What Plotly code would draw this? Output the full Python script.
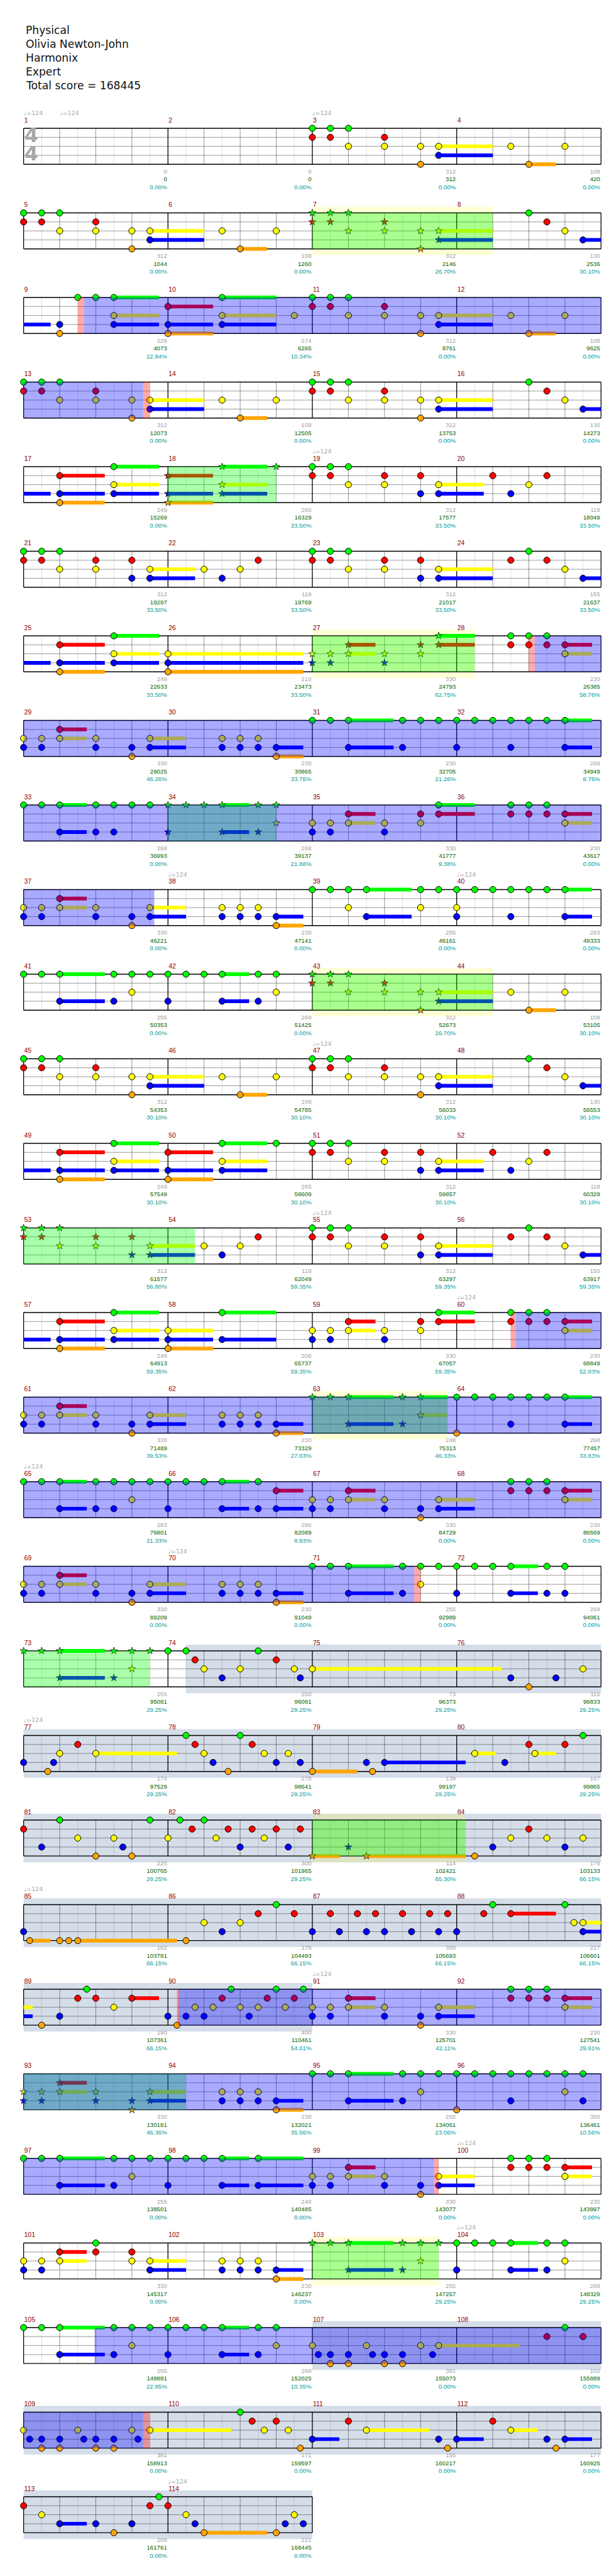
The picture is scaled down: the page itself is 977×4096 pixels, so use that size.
import plotly.graph_objects as go

# ---------------- data ----------------
TITLE_LINES = ["Physical", "Olivia Newton-John", "Harmonix", "Expert", "Total score = 168445"]
N_MEAS = 114

# notes per row of 4 measures: "pos16:LANES[/end16]"  (lowercase = star note)
ROW_NOTES = [
    "32:GR 34:GR 36:GY 40:RY 44:YO 46:YB/52 54:Y 56:O/59 60:Y",
    "0:GR 2:GR 4:GY 8:RY 12:YO 14:YB/20 22:Y 24:O/27 28:Y 32:gr 34:gr 36:gy 40:ry 44:yo 46:yb/52 56:G 58:R 60:Y 62:B/67",
    "4:BO 6:G 8:G 10:GYB/15 16:RBO/21 22:GYB/28 30:Y 32:GR 34:GR 36:GY 40:RY 44:YO 46:YB/52 54:Y 56:O/59 60:Y",
    "0:GR 2:GR 4:GY 8:RY 12:YO 14:YB/20 22:Y 24:O/27 28:Y 32:GR 34:GR 36:GY 40:RY 44:YO 46:YB/52 56:G 58:R 60:Y 62:B/67",
    "4:RBO/9 10:GYB/15 16:rbo/21 22:gyb/27 28:g 32:GR 34:GR 36:GY 40:RY 44:RB 46:YB/51 52:R 54:B 56:Y 58:R",
    "0:GR 2:GR 4:GY 8:RY 12:RB 14:YB/19 20:Y 22:B 24:Y 26:R 32:GR 34:GR 36:GY 40:RY 44:RB 46:YB/52 54:R 56:G 58:R 60:Y 62:B/67",
    "4:RBO/9 10:GYB/15 16:YBO/31 32:yb 34:yb 36:ry/39 40:yb 44:ry 46:gr/50 54:GR 56:GR 58:GR 60:RY/63",
    "0:YB 2:YB 4:RY/7 8:YB 12:BO 14:YB/18 22:YB 24:YB 26:YB 28:BO/31 32:G 34:G 36:GB/41 42:GB 44:G 46:G 48:GB 50:G 52:G 54:GB 56:G 58:G 60:GB/63",
    "0:G 2:G 4:GB/7 8:GB 10:GB 12:G 14:G 16:gb 18:g 20:g 22:gb/25 26:gb 28:gy 32:YB 34:YB 36:RY/39 40:YB 44:RY 46:GR/50 54:GR 56:GR 58:GR 60:RY/63",
    "0:YB 2:YB 4:RY/7 8:YB 12:BO 14:YB/18 22:YB 24:YB 26:YB 28:BO/31 32:G 34:G 36:GY 38:GB/43 44:GY 46:G 48:GYB 50:G 52:G 54:GB 56:G 58:G 60:GB/63",
    "0:G 2:G 4:GB/9 10:GB 12:GY 14:G 16:GB 18:G 20:G 22:GB/25 26:GB 28:GY 32:gr 34:gr 36:gy 40:ry 44:yo 46:yb/52 54:Y 56:O/59 60:Y",
    "0:GR 2:GR 4:GY 8:RY 12:YO 14:YB/20 22:Y 24:O/27 28:Y 32:GR 34:GR 36:GY 40:RY 44:YO 46:YB/52 56:G 58:R 60:Y 62:B/67",
    "4:RBO/9 10:GYB/15 16:RBO/21 22:GYB/27 28:G 32:GR 34:GR 36:GY 40:RY 44:RB 46:YB/51 52:R 54:B 56:Y 58:R",
    "0:gr 2:gr 4:gy 8:ry 12:rb 14:yb/19 20:Y 22:B 24:Y 26:R 32:GR 34:GR 36:GY 40:RY 44:RB 46:YB/52 54:R 56:G 58:R 60:Y 62:B/67",
    "4:RBO/9 10:GYB/15 16:YBO/21 22:GB/28 32:YB 34:YB 36:RY/39 40:YB 44:RY 46:GR/50 54:GR 56:GR 58:GR 60:RY/63",
    "0:YB 2:YB 4:RY/7 8:YB 12:BO 14:YB/18 22:YB 24:YB 26:YB 28:BO/31 32:g 34:g 36:gb/41 42:gb 44:gy/47 48:GO 50:G 52:G 54:GB 56:G 58:G 60:GB/63",
    "0:G 2:G 4:GB/7 8:GB 10:GB 12:GY 14:G 16:GB 18:G 20:G 22:GB/25 26:GB 28:RB/31 32:YB 34:YB 36:RY/39 40:YB 44:BO 46:YB/50 54:GR 56:GR 58:GR 60:RY/63",
    "0:YB 2:YB 4:RY/7 8:YB 12:BO 14:YB/18 22:YB 24:YB 26:YB 28:BO/31 32:G 34:G 36:GB/41 42:GB 44:GY 46:G 48:GB 50:G 52:G 54:GB/57 58:GB 60:GB",
    "0:g 2:g 4:gb/9 10:gb 12:gy 14:g 16:G 18:G 19:R 20:Y 22:B 24:Y 26:G 28:R 30:Y 30.67:B 32:Y/53 54:B 56:O 59:B 62:Y",
    "0:B 2.67:O 3.33:B 4:Y 6:R 8:Y/17 18:G 19:R 20:Y 21:B 22.67:O 24:G 25.33:R 26.67:Y 28:B 29.33:Y 30.67:B 32:O/37 38:B 38.67:O 40:B/49 50:Y/52.33 53.33:B 56:R 56.67:Y/59 60:R 62:G",
    "0:R 2:B 4:G 6:Y 8:O 10:Y 11:B 12:O 14:G 16:Y 17.33:G 18.67:R 20:G 21.33:Y 22.67:R 24:B 25.33:R 26.67:Y 28:R 29.33:B 30.67:R 32:o/35 36:b 38:o/49 50:O 52:B 54:Y 56:R 58:Y 60:B 62:Y",
    "0:B 0.67:O/3 4:O 5:O 6:O/17 18:O 20:Y 22:B 24:Y 26:R 28:G 30:R 32:B 34:R 35:B 37:R 38:B 39:R 40:B 42:R 43:B 45:R 46:B 47:R 48:B 51:R 52:G 54:R/59 60:G 61:Y 62:YB/65",
    "2:O 4:B 6:R 7:G 8:R 10:Y 12:R/15 16:B 17:O 18:B 19:Y 20:B 21:Y 22:R 23:G 24:Y 25:B 26:Y 27:R 28:G 29:Y 30:R 31:G 32:YB 34:YB 36:RY/39 40:YB 44:BO 46:YB/50 54:GR 56:GR 58:GR 60:RY/63",
    "0:yb 2:yb 4:ry/7 8:yb 12:bo 14:yb/18 22:YB 24:YB 26:YB 28:BO/31 32:G 34:G 36:GB/41 42:GB 44:GY 46:G 48:GO 50:G 52:G 54:GB 56:G 58:G 60:GY 62:GB",
    "0:G 2:G 4:GB/9 10:GB 12:GY 14:G 16:GB 18:G 20:G 22:GB/25 26:GB/31 32:YB 34:YB 36:RY/39 40:YB 44:BO 46:YB/50 54:GR 56:GR 58:GR 60:RY/63",
    "0:YB 2:YB 4:RY/7 8:GR 12:RY 14:YB/18 22:YB 24:YB 26:YB 28:BO/31 32:g 34:g 36:gb/41 42:gb 44:gy 46:g 48:GB 50:G 52:G 54:GB/57 58:GB 60:GY",
    "0:G 2:G 4:GB/9 10:GB 12:GY 14:G 16:GB 18:G 20:G 22:GB/25 26:GB 28:GY 32:Y 32.67:B 34:BO 36:BO 38:Y 38.67:B 40:BO 42:BO 44:Y 45.33:B 46:Y/55 58:R 60:G 62:R",
    "0:Y 0.67:B 2:BO 4:BO 6:Y 6.67:B 8:BO 10:BO 12:Y 12.67:B 14:Y/23 24:G 25.33:R 26.67:Y 28:R 29.33:Y 30.67:O 32:B/35 36:R 38:Y/45 46:B 47:O 48:B/51 52:R 54:Y/57 58:B 59:O 60:B/63",
    "0:R 2:Y 4:B/7 8:B 10:O 12:B 14:R 15:G 16:R 18:Y 19:B 20:O/27 28:O 29:B 30:Y 31:B",
]

MEASURE_COUNTS = [0, 0, 312, 108, 312, 108, 312, 130, 229, 274, 312, 108, 312, 108, 312, 130,
                  249, 265, 312, 118, 312, 118, 312, 155, 249, 210, 330, 230, 330, 230, 230, 268,
                  268, 268, 330, 230, 330, 230, 255, 293, 255, 268, 312, 108, 312, 108, 312, 130,
                  249, 265, 312, 118, 312, 118, 312, 155, 249, 206, 330, 230, 330, 230, 248, 268,
                  293, 286, 330, 230, 330, 230, 255, 268, 255, 250, 73, 115, 174, 278, 139, 167,
                  225, 300, 114, 178, 162, 178, 300, 227, 190, 400, 330, 230, 330, 230, 255, 300,
                  255, 248, 330, 230, 330, 230, 255, 268, 255, 268, 381, 102, 381, 171, 155, 177,
                  209, 221]
MEASURE_SCORES = [0, 0, 312, 420, 1044, 1260, 2146, 2536, 4073, 6265, 8761, 9625,
                  12073, 12505, 13753, 14273, 15269, 16329, 17577, 18049, 19297, 19769, 21017, 21637,
                  22633, 23473, 24793, 26385, 29025, 30865, 32705, 34949, 36993, 39137, 41777, 43617,
                  46221, 47141, 48161, 49333, 50353, 51425, 52673, 53105, 54353, 54785, 56033, 56553,
                  57549, 58609, 59857, 60329, 61577, 62049, 63297, 63917, 64913, 65737, 67057, 68849,
                  71489, 73329, 75313, 77457, 79801, 82089, 84729, 86569, 89209, 91049, 92989, 94061,
                  95081, 96081, 96373, 96833, 97529, 98641, 99197, 99865, 100765, 101965, 102421, 103133,
                  103781, 104493, 105693, 106601, 107361, 110461, 125701, 127541, 130181, 132021, 134061, 136461,
                  138501, 140485, 143077, 143997, 145317, 146237, 147257, 148329, 149881, 152025, 155073, 155889,
                  158913, 159597, 160217, 160925, 161761, 168445]
MEASURE_PCTS = [0, 0, 0, 0, 0, 0, 26.70, 30.10, 22.84, 10.34, 0, 0, 0, 0, 0, 0,
                0, 33.50, 33.50, 33.50, 33.50, 33.50, 33.50, 33.50, 33.50, 33.50, 62.75, 58.76,
                46.26, 33.76, 21.26, 8.76, 0, 21.88, 9.38, 0, 0, 0, 0, 0, 0, 0, 26.70, 30.10,
                30.10, 30.10, 30.10, 30.10, 30.10, 30.10, 30.10, 30.10, 56.80, 59.35, 59.35, 59.35,
                59.35, 59.35, 59.35, 52.03, 39.53, 27.03, 46.33, 33.83, 21.33, 8.83, 0, 0, 0, 0, 0, 0,
                29.25, 29.25, 29.25, 29.25, 29.25, 29.25, 29.25, 29.25, 29.25, 29.25, 65.30, 66.15,
                66.15, 66.15, 66.15, 66.15, 66.15, 54.61, 42.11, 29.61, 46.36, 35.56, 23.06, 10.56,
                0, 0, 0, 0, 0, 0, 29.25, 29.25, 22.85, 10.35, 0, 0, 0, 0, 0, 0, 0, 0]

TEMPO_POS = [0, 4, 32, 288, 592, 624, 736, 864, 944, 1024, 1104, 1216, 1344, 1440, 1584, 1648, 1808]
TEMPO_BPM = [124, 124, 124, 124, 124, 124, 124, 124, 124, 124, 124, 124, 124, 124, 124, 124, 124]

# star-power phrases (start16, end16, pale band)
OD_PHRASES = [(96, 116, 1), (272, 284, 0), (416, 434, 1), (528, 540, 0), (672, 692, 1), (832, 851, 0),
              (992, 1007, 1), (1152, 1166, 0), (1312, 1329, 1), (1472, 1490, 0), (1632, 1646, 1)]
OD_ACTIVE = [(134.67, 205.26), (440.65, 590.48), (950.57, 1131.3), (1425.2, 1581.5), (1671.87, 1741.26)]
OD_MARKS = [(134, 134.67), (205.26, 206), (440, 440.65), (950, 950.57), (1131.3, 1132),
            (1425, 1425.25), (1581.5, 1582), (1741.26, 1742)]
SOLOS = [(1170, 1440), (1696, 1824)]

LANE_OF = {"G": 0, "R": 1, "Y": 2, "B": 3, "O": 4}
LANE_COLORS = ["#00ff00", "#ff0000", "#ffff00", "#0000ff", "#ffa500"]

# ---------------- geometry (reference px -> data) ----------------
REF_W, REF_H = 1024.0, 4294.0
X0 = 31.0
SX = 963.0 / 64.0
T0 = 205.5
LP = 15.0
RP = 141.0 / 15.0
N_ROWS = len(ROW_NOTES)
K = 0.953


def Y(r, lane):
    return -(RP * r + lane)


def row_width(r):
    return 16 * min(4, N_MEAS - 4 * r)


def split(a, b):
    segs = []
    r = int(a // 64)
    while a < b - 1e-9 and r < N_ROWS:
        rs = 64 * r
        e = min(b, rs + 64)
        segs.append((r, a - rs, e - rs))
        a = e
        r += 1
    return segs


fig = go.Figure()
shapes = []

# background bands (below)
for s, e in SOLOS:
    for r, x0, x1 in split(s, e):
        shapes.append(dict(type="rect", layer="below", x0=x0, x1=x1,
                           y0=Y(r, -10.5 / LP), y1=Y(r, 4 + 10.5 / LP),
                           fillcolor="#d5dde9", line=dict(width=0)))
for s, e, pale in OD_PHRASES:
    if pale:
        for r, x0, x1 in split(s, e):
            shapes.append(dict(type="rect", layer="below", x0=x0, x1=x1,
                               y0=Y(r, -10.3 / LP), y1=Y(r, 4 + 10.3 / LP),
                               fillcolor="rgba(255,255,0,0.165)", line=dict(width=0)))

# grid
gx = {k: [] for k in ("light", "beat", "lane", "black")}
gy = {k: [] for k in ("light", "beat", "lane", "black")}


def seg(k, xa, ya, xb, yb):
    gx[k] += [xa, xb, None]
    gy[k] += [ya, yb, None]


for r in range(N_ROWS):
    w = row_width(r)
    top, bot = Y(r, 0), Y(r, 4)
    for p in range(2, w, 4):
        seg("light", p, top, p, bot)
    for p in range(4, w, 4):
        if p % 16:
            seg("beat", p, top, p, bot)
    for p in range(0, w + 1, 16):
        seg("black", p, top, p, bot)
    for l in (1, 2, 3):
        seg("lane", 0, Y(r, l), w, Y(r, l))
    seg("black", 0, top, w, top)
    seg("black", 0, bot, w, bot)

grid_style = {"light": ("rgba(0,0,0,0.13)", 1.0), "beat": ("rgba(0,0,0,0.42)", 1.0),
              "lane": ("rgba(0,0,0,0.40)", 1.0), "black": ("#000000", 1.3)}
for k in ("light", "beat", "lane", "black"):
    c, wd = grid_style[k]
    fig.add_trace(go.Scatter(x=gx[k], y=gy[k], mode="lines", line=dict(color=c, width=wd),
                             hoverinfo="skip", cliponaxis=False))

# parse notes
gems = {}
sus_x = {l: [] for l in range(5)}
sus_y = {l: [] for l in range(5)}
for r, txt in enumerate(ROW_NOTES):
    for tok in txt.split():
        pos_s, rest = tok.split(":")
        pos = float(pos_s)
        end = None
        if "/" in rest:
            rest, end_s = rest.split("/")
            end = float(end_s)
        for ch in rest:
            lane = LANE_OF[ch.upper()]
            star = ch.islower()
            gems.setdefault((lane, star), ([], []))
            gems[(lane, star)][0].append(pos)
            gems[(lane, star)][1].append(Y(r, lane))
            if end is not None:
                for rr, a, b in split(64 * r + pos, 64 * r + end):
                    sus_x[lane] += [a, b, None]
                    sus_y[lane] += [Y(rr, lane), Y(rr, lane), None]

for l in range(5):
    fig.add_trace(go.Scatter(x=sus_x[l], y=sus_y[l], mode="lines",
                             line=dict(color=LANE_COLORS[l], width=6.2 * K),
                             hoverinfo="skip", cliponaxis=False))

for (lane, star), (xs, ys) in sorted(gems.items()):
    if star:
        mk = dict(symbol="star", size=9.0 * K, color=LANE_COLORS[lane],
                  line=dict(color="#1a1a1a", width=0.8))
    else:
        mk = dict(symbol="circle", size=10.5 * K, color=LANE_COLORS[lane],
                  line=dict(color="#000000", width=1))
    fig.add_trace(go.Scatter(x=xs, y=ys, mode="markers", marker=mk,
                             hoverinfo="skip", cliponaxis=False))

# overlays (above)
for s, e, pale in OD_PHRASES:
    for r, x0, x1 in split(s, e):
        shapes.append(dict(type="rect", layer="above", x0=x0, x1=x1, y0=Y(r, 0), y1=Y(r, 4),
                           fillcolor="rgba(0,255,0,0.333)", line=dict(width=0)))
for s, e in OD_ACTIVE:
    for r, x0, x1 in split(s, e):
        shapes.append(dict(type="rect", layer="above", x0=x0, x1=x1, y0=Y(r, 0), y1=Y(r, 4),
                           fillcolor="rgba(0,0,255,0.333)", line=dict(width=0)))
for s, e in OD_MARKS:
    for r, x0, x1 in split(s, e):
        shapes.append(dict(type="rect", layer="above", x0=x0, x1=x1, y0=Y(r, 0), y1=Y(r, 4),
                           fillcolor="rgba(255,0,0,0.333)", line=dict(width=0)))

# texts
FONT = "Liberation Sans, Arial, DejaVu Sans"
mx, my, mt = [], [], []
cx, cy, ct = [], [], []
sx_, sy_, st = [], [], []
px_, py_, pt = [], [], []
for m in range(N_MEAS):
    r = m // 4
    ps = (m % 4) * 16
    pe = ps + 16
    mx.append(ps + 1.0 / SX)
    my.append(Y(r, -12.5 / LP))
    mt.append(str(m + 1))
    xr = pe - 1.5 / SX
    cx.append(xr); cy.append(Y(r, 4 + 12.5 / LP)); ct.append(str(MEASURE_COUNTS[m]))
    sx_.append(xr); sy_.append(Y(r, 4 + 25.8 / LP)); st.append(str(MEASURE_SCORES[m]))
    px_.append(xr); py_.append(Y(r, 4 + 39.0 / LP)); pt.append("%.2f%%" % MEASURE_PCTS[m])

fig.add_trace(go.Scatter(x=mx, y=my, mode="text", text=mt, textposition="middle right",
                         marker=dict(size=0),
                         textfont=dict(family=FONT, size=11 * K, color="#8b0000"),
                         hoverinfo="skip", cliponaxis=False))
for xs, ys, ts, col in ((cx, cy, ct, "#a0a0a0"), (sx_, sy_, st, "#006400"), (px_, py_, pt, "#009c9c")):
    fig.add_trace(go.Scatter(x=xs, y=ys, mode="text", text=ts, textposition="middle left",
                             marker=dict(size=0),
                             textfont=dict(family=FONT, size=10.2 * K, color=col),
                             hoverinfo="skip", cliponaxis=False))

tx = [p % 64 for p in TEMPO_POS]
ty = [Y(p // 64, -24.5 / LP) for p in TEMPO_POS]
tt = ["\u2669=%d" % b for b in TEMPO_BPM]
fig.add_trace(go.Scatter(x=tx, y=ty, mode="text", text=tt, textposition="middle right",
                         marker=dict(size=0),
                         textfont=dict(family="DejaVu Sans, Liberation Sans", size=10 * K, color="#a8a8a8"),
                         hoverinfo="skip", cliponaxis=False))

# time signature
fig.add_trace(go.Scatter(x=[13.0 / SX, 13.0 / SX], y=[Y(0, 1), Y(0, 3)], mode="text",
                         text=["<b>4</b>", "<b>4</b>"], textposition="middle center",
                         marker=dict(size=0),
                         textfont=dict(family="DejaVu Sans", size=33 * K, color="#a8a8a8"),
                         hoverinfo="skip", cliponaxis=False))

annotations = []
for i, line in enumerate(TITLE_LINES):
    yc = 42 + 23 * i
    annotations.append(dict(text=line, xref="paper", yref="paper", x=32 / REF_W, y=1 - yc / REF_H,
                            xanchor="left", yanchor="middle", showarrow=False,
                            font=dict(family="DejaVu Sans", size=18 * K, color="#111111")))

fig.update_layout(
    width=977, height=4096, margin=dict(l=0, r=0, t=0, b=0),
    paper_bgcolor="white", plot_bgcolor="white", showlegend=False, hovermode=False,
    xaxis=dict(range=[-X0 / SX, (REF_W - X0) / SX], visible=False, fixedrange=True),
    yaxis=dict(range=[-(REF_H - T0) / LP, T0 / LP], visible=False, fixedrange=True),
    shapes=shapes, annotations=annotations,
)
fig.write_html("out.html")
